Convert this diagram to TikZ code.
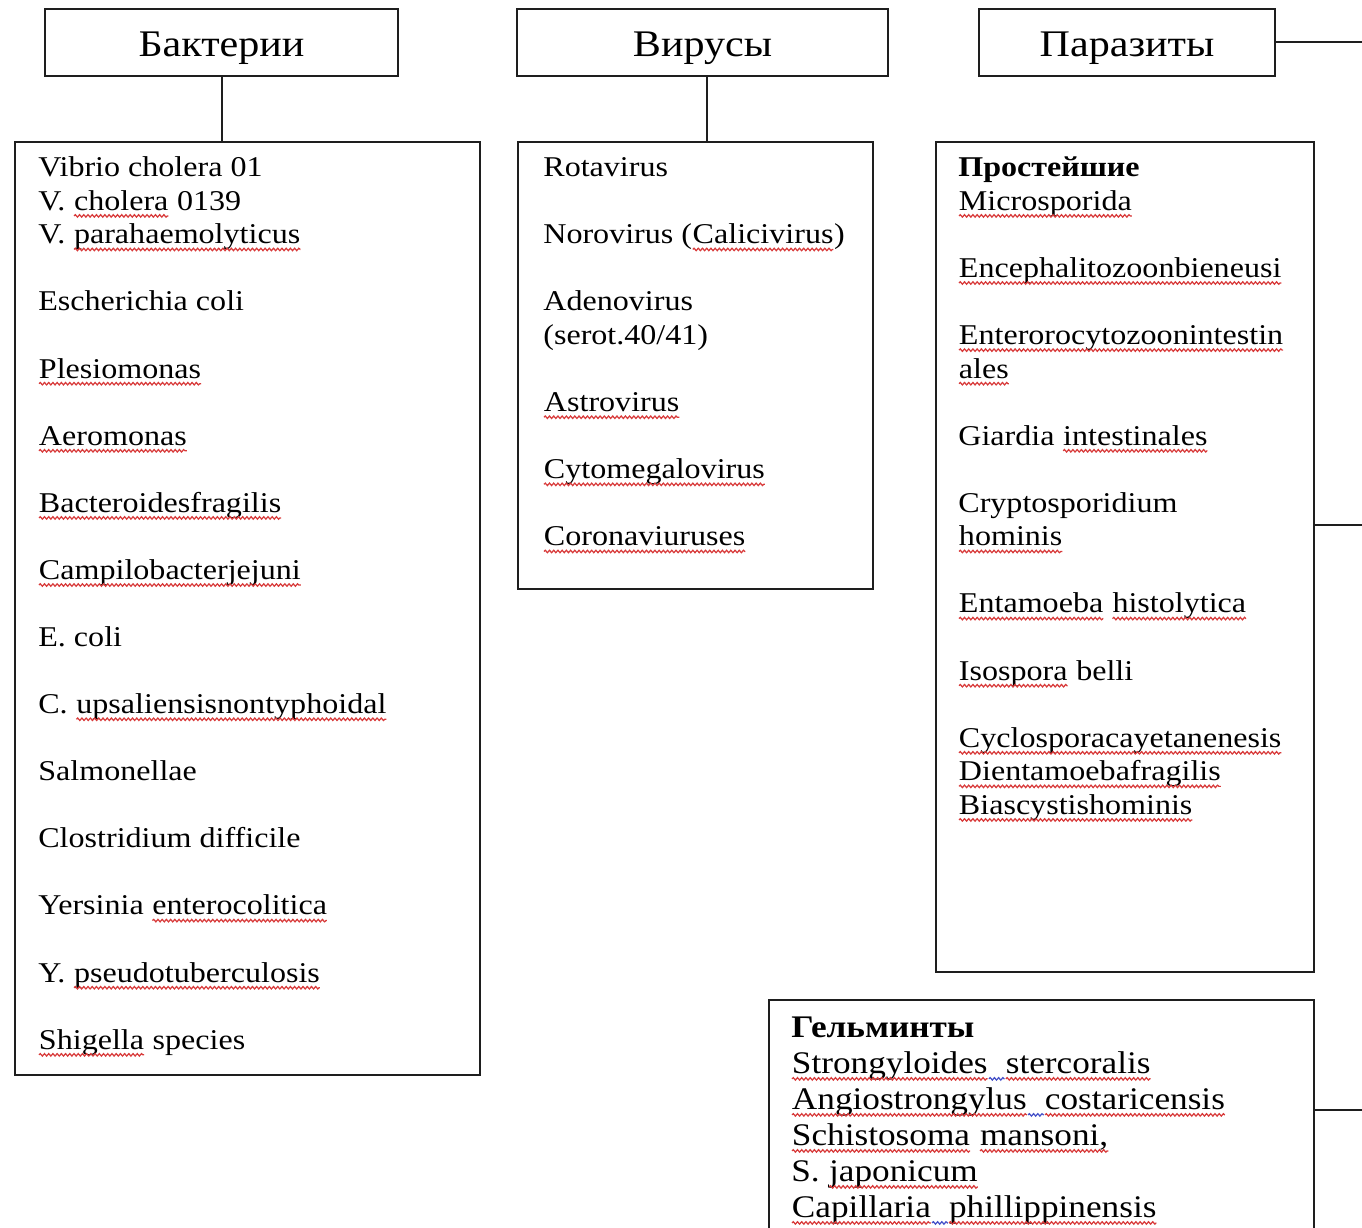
\documentclass[tikz,border=0pt]{standalone}
\usepackage{fontspec}
\setmainfont{Liberation Serif}[FakeStretch=1.12]
\usetikzlibrary{positioning, decorations.pathmorphing}
\definecolor{cline}{HTML}{1E1E1E}
\definecolor{csquig}{HTML}{D83A3A}
\definecolor{cblsq}{HTML}{4450C8}
\tikzset{
  every picture/.style={line width=1.1pt},
  head/.style={draw=cline, minimum height=1.34cm, text height=16pt, text depth=0pt, font=\fontsize{21.4}{25}\selectfont},
  listbox/.style={draw=cline, anchor=north west},
  items/.style={align=left, anchor=north west, inner sep=0pt, font=\fontsize{16.3}{19.1}\selectfont},
  link/.style={draw=cline, line width=1.1pt},
  wavy/.style={draw=#1, line width=.7pt, decorate, decoration={snake, amplitude=.7pt, segment length=2.4pt}},
  wavy/.default=csquig,
  wordbox/.style={inner sep=0pt, outer sep=0pt, anchor=base},
}
% spell-check squiggles under a word / a gap
\newcommand\sq[1]{\tikz[baseline=(w.base)]{\node[wordbox] (w) {#1};
  \draw[wavy] ([yshift=-3.2pt]w.base west) -- ([yshift=-3.2pt]w.base east);}}
\newcommand\bq{\tikz[baseline=(w.base)]{\node[wordbox] (w) {\hspace*{.5em}\vphantom{x}};
  \draw[wavy=cblsq] ([yshift=-3.2pt]w.base west) -- ([yshift=-3.2pt]w.base east);}}
% fixed first-line height, so the top of a list sits 15pt above its first baseline
\newcommand\fl{\rule{0pt}{15pt}}

\begin{document}
\begin{tikzpicture}[x=0.02cm, y=-0.02cm]
  \useasboundingbox (0,0) rectangle (1362,1227);
  \clip (0,0) rectangle (1362,1227);
  % group headers
  \node[head, minimum width=7.06cm] (hbac) at (221.5,42.5) {Бактерии};
  \node[head, minimum width=7.42cm] (hvir) at (702.5,42.5) {Вирусы};
  \node[head, minimum width=5.92cm] (hpar) at (1127,42.5) {Паразиты};
  % list frames
  \node[listbox, minimum width=9.3cm, minimum height=18.66cm] (lbac) at (14,141) {};
  \node[listbox, minimum width=7.1cm, minimum height=8.94cm] (lvir) at (517,141) {};
  \node[listbox, minimum width=7.56cm, minimum height=16.6cm] (lpro) at (935,141) {};
  \node[listbox, minimum width=10.9cm, minimum height=6cm] (lhel) at (768,999) {};
  % bacteria
  \node[items] (tbac) at (38,150) {\fl Vibrio cholera 01\\V. \sq{cholera} 0139\\V. \sq{parahaemolyticus}\\[19.1pt]%
    Escherichia coli\\[19.1pt]\sq{Plesiomonas}\\[19.1pt]\sq{Aeromonas}\\[19.1pt]\sq{Bacteroidesfragilis}\\[19.1pt]%
    \sq{Campilobacterjejuni}\\[19.1pt]E. coli\\[19.1pt]C. \sq{upsaliensisnontyphoidal}\\[19.1pt]Salmonellae\\[19.1pt]%
    Clostridium difficile\\[19.1pt]Yersinia \sq{enterocolitica}\\[19.1pt]Y. \sq{pseudotuberculosis}\\[19.1pt]%
    \sq{Shigella} species};
  % viruses
  \node[items] (tvir) at (543,150) {\fl Rotavirus\\[19.1pt]Norovirus (\sq{Calicivirus})\\[19.1pt]Adenovirus\\(serot.40/41)\\[19.1pt]%
    \sq{Astrovirus}\\[19.1pt]\sq{Cytomegalovirus}\\[19.1pt]\sq{Coronaviuruses}};
  % protozoa
  \node[items] (tpro) at (958,150) {\fl\textbf{Простейшие}\\\sq{Microsporida}\\[19.1pt]\sq{Encephalitozoonbieneusi}\\[19.1pt]%
    \sq{Enterorocytozoonintestin}\\\sq{ales}\\[19.1pt]Giardia \sq{intestinales}\\[19.1pt]Cryptosporidium\\\sq{hominis}\\[19.1pt]%
    \sq{Entamoeba} \sq{histolytica}\\[19.1pt]\sq{Isospora} belli\\[19.1pt]\sq{Cyclosporacayetanenesis}\\%
    \sq{Dientamoebafragilis}\\\sq{Biascystishominis}};
  % helminths
  \node[items, font=\fontsize{17.9}{20.5}\selectfont] (thel) at (791,1010.5) {\fl\textbf{Гельминты}\\%
    \sq{Strongyloides}\bq\sq{stercoralis}\\%
    \sq{Angiostrongylus}\bq\sq{costaricensis}\\%
    \sq{Schistosoma} \sq{mansoni,}\\S. \sq{japonicum}\\%
    \sq{Capillaria}\bq\sq{phillippinensis}};
  % links
  \coordinate (rpar) at (1375,42);
  \coordinate (rpro) at (1375,525);
  \coordinate (rhel) at (1375,1110);
  \draw[link] (hbac.south -| 222,0) -- (lbac.north -| 222,0);
  \draw[link] (hvir.south -| 707,0) -- (lvir.north -| 707,0);
  \draw[link] (hpar.east |- rpar) -- (rpar);
  \draw[link] (lpro.east |- rpro) -- (rpro);
  \draw[link] (lhel.east |- rhel) -- (rhel);
\end{tikzpicture}
\end{document}
